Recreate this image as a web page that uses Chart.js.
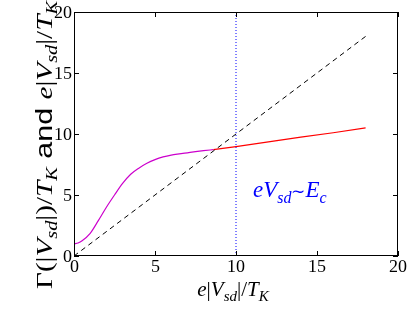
<!DOCTYPE html>
<html><head><meta charset="utf-8">
<script src="https://cdn.jsdelivr.net/npm/chart.js@4/dist/chart.umd.min.js"></script>
<style>html,body{margin:0;padding:0;background:#fff}#wrap{width:415px;height:312px}</style>
</head><body><div id="wrap"><canvas id="c" width="415" height="312"></canvas></div>
<script>
const gammaX = [0,0.25,0.5,1,1.5,2,2.5,3,3.5,4,4.5,5,5.5,6,6.5,7,7.5,8,8.6];
const gammaY = [1.0,1.07,1.25,1.86,2.9,4.0,5.0,5.95,6.7,7.2,7.6,7.9,8.12,8.27,8.37,8.46,8.55,8.63,8.72];
const redX = [8.6,10,12,14,16,18];
const redY = [8.72,8.96,9.35,9.75,10.1,10.5];
const diagX = [0,18];
const diagY = [0,18];
const markerX = [10,10];
const markerY = [0,20];
const tickValues = [0,5,10,15,20];
const annotX = 11.05, annotY = 4.8;

const pts = (xs, ys) => xs.map((x,i)=>({x, y: ys[i]}));
const SERIF = '"Liberation Serif", serif';
const TICKFONT = '18px TickSerif, "Liberation Serif", serif';

function richWidth(ctx, segs){let w=0;for(const s of segs){ctx.font=s.f;w+=ctx.measureText(s.t).width;}return w;}
function drawRich(ctx, segs, x, y){
  let cx=x;
  for(const s of segs){ctx.font=s.f;ctx.fillText(s.t,cx,y+(s.dy||0));cx+=ctx.measureText(s.t).width;}
}
function mathSegs(sz){
  const r = sz+'px '+SERIF, it='italic '+sz+'px '+SERIF, sub='italic '+Math.round(sz*0.7)+'px '+SERIF;
  const d = sz*0.22;
  return {r,it,sub,d};
}

const overlay = {
  id:'overlay',
  afterDraw(chart){
    const ctx=chart.ctx, a=chart.chartArea, xs=chart.scales.x, ys=chart.scales.y;
    ctx.save();
    ctx.strokeStyle='#000'; ctx.lineWidth=1;
    ctx.strokeRect(a.left+0.5,a.top+0.5,a.right-a.left-1,a.bottom-a.top-1);
    const L=5;
    ctx.beginPath();
    for(const v of tickValues){
      const px=Math.round(xs.getPixelForValue(v))+0.5;
      ctx.moveTo(px,a.bottom); ctx.lineTo(px,a.bottom-L);
      ctx.moveTo(px,a.top); ctx.lineTo(px,a.top+L);
      const py=Math.round(ys.getPixelForValue(v))+0.5;
      ctx.moveTo(a.left,py); ctx.lineTo(a.left+L,py);
      ctx.moveTo(a.right,py); ctx.lineTo(a.right-L,py);
    }
    ctx.stroke();
    ctx.fillStyle='#000';
    // tick labels
    ctx.font=TICKFONT;
    ctx.textAlign='center'; ctx.textBaseline='top';
    for(const t of xs.ticks){ ctx.fillText(String(t.value), xs.getPixelForValue(t.value), a.bottom+2); }
    ctx.textAlign='right'; ctx.textBaseline='middle';
    for(const t of ys.ticks){ ctx.fillText(String(t.value), a.left-2, ys.getPixelForValue(t.value)+1); }
    ctx.textBaseline='alphabetic'; ctx.textAlign='left';
    // x title
    let m=mathSegs(21);
    const xt=[{t:'e',f:m.it},{t:'|',f:m.r},{t:'V',f:m.it},{t:'sd',f:m.sub,dy:m.d},{t:'|/',f:m.r},{t:'T',f:m.it},{t:'K',f:m.sub,dy:m.d}];
    const xw=richWidth(ctx,xt);
    drawRich(ctx,xt,(a.left+a.right)/2-xw/2-3,296);
    // y title
    m=mathSegs(23);
    const yt=[{t:'Γ(|',f:m.r},{t:'V',f:m.it},{t:'sd',f:m.sub,dy:m.d},{t:'|)/',f:m.r},{t:'T',f:m.it},{t:'K',f:m.sub,dy:m.d},
      {t:' and ',f:'24px "Liberation Sans", sans-serif'},
      {t:'e',f:m.it},{t:'|',f:m.r},{t:'V',f:m.it},{t:'sd',f:m.sub,dy:m.d},{t:'|/',f:m.r},{t:'T',f:m.it},{t:'K',f:m.sub,dy:m.d}];
    const yw=richWidth(ctx,yt);
    const sc=288/yw;
    ctx.save(); ctx.translate(52,145); ctx.rotate(-Math.PI/2); ctx.scale(sc,1);
    drawRich(ctx,yt,-yw/2,0); ctx.restore();
    // annotation
    ctx.fillStyle='#0000ff';
    m=mathSegs(23);
    const at=[{t:'eV',f:m.it},{t:'sd',f:m.sub,dy:m.d},{t:'∼',f:'17px '+SERIF},{t:'E',f:m.it},{t:'c',f:m.sub,dy:m.d}];
    drawRich(ctx,at,xs.getPixelForValue(annotX),ys.getPixelForValue(annotY));
    ctx.restore();
  }
};

function makeChart(){
  new Chart(document.getElementById('c'),{
    type:'scatter',
    data:{datasets:[
      {data:pts(diagX,diagY),showLine:true,borderColor:'#000',borderWidth:1,borderDash:[5,4],pointRadius:0},
      {data:pts(markerX,markerY),showLine:true,borderColor:'#0000ff',borderWidth:1,borderDash:[1,2],pointRadius:0},
      {data:pts(gammaX,gammaY),showLine:true,borderColor:'#cc00cc',borderWidth:1.2,pointRadius:0,cubicInterpolationMode:'monotone'},
      {data:pts(redX,redY),showLine:true,borderColor:'#ff0000',borderWidth:1.2,pointRadius:0}
    ]},
    options:{
      responsive:false,animation:false,
      layout:{padding:{left:0,right:17,top:12,bottom:0}},
      plugins:{legend:{display:false},tooltip:{enabled:false}},
      scales:{
        x:{type:'linear',min:0,max:20,grid:{display:false,drawTicks:false},border:{display:false},
          ticks:{stepSize:5,display:false},
          afterFit(s){s.height=56;}},
        y:{type:'linear',min:0,max:20,grid:{display:false,drawTicks:false},border:{display:false},
          ticks:{stepSize:5,display:false},
          afterFit(s){s.width=74;}}
      }
    },
    plugins:[overlay]
  });
}

let made=false;
function once(){ if(!made){ made=true; makeChart(); } }
try{
  const ff=new FontFace('TickSerif','local("Liberation Serif"), local("LiberationSerif"), local("Liberation Serif Regular"), local("Times New Roman")');
  ff.load().then(f=>{document.fonts.add(f); once();}).catch(once);
  setTimeout(once,400);
}catch(e){ once(); }
</script></body></html>
